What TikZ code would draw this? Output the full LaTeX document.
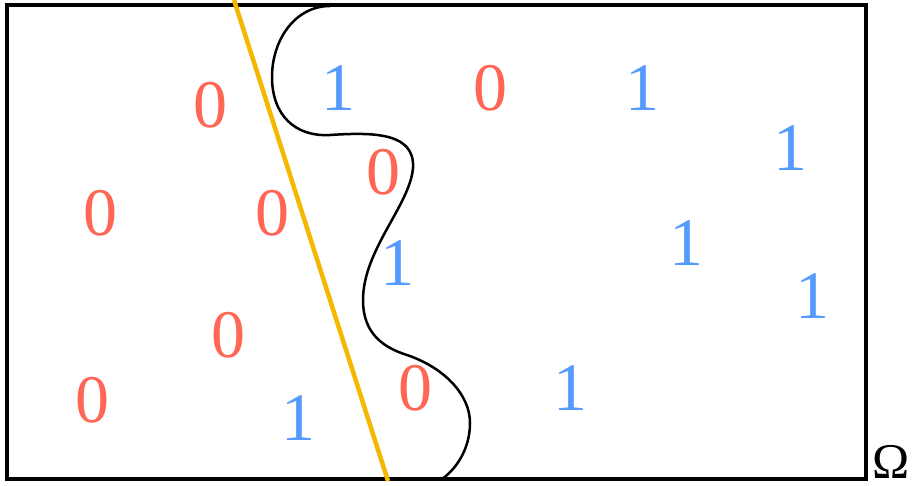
\documentclass[tikz,border=0pt]{standalone}
\usepackage{fontspec}
\setmainfont{Liberation Serif}
\definecolor{zerored}{RGB}{255,102,85}
\definecolor{oneblue}{RGB}{85,155,255}
\definecolor{lineyellow}{RGB}{245,184,0}
\begin{document}
\begin{tikzpicture}[x=1pt,y=-1pt]

    % Stili per le etichette e i bordi
    \tikzset{
        zero/.style={text=zerored, font=\fontsize{68}{68}\selectfont, inner sep=0pt},
        one/.style={text=oneblue, font=\fontsize{68}{68}\selectfont, inner sep=0pt},
        border/.style={line width=4.5pt}
    }

    % Area dell'immagine (917 x 485)
    \useasboundingbox (0,0) rectangle (917,485);

    % Dominio
    \draw[border] (7,5) rectangle (866,479);
    \node[font=\fontsize{50}{50}\selectfont, anchor=base west, inner sep=0pt] (omega) at (872,478) {Ω};

    % Separatore lineare
    \coordinate (ltop) at (234,0);
    \coordinate (lbot) at (388,481);
    \draw[lineyellow, line width=4.5pt] (ltop) -- (lbot);

    % Frontiera curva
    \draw[line width=2.5pt] (330,6)
        .. controls (295,6) and (272,40) .. (272,77)
        .. controls (272,115) and (295,137) .. (330,135)
        .. controls (375,132) and (415,133) .. (413,168)
        .. controls (410,205) and (363,250) .. (363,300)
        .. controls (363,335) and (385,348) .. (407,355)
        .. controls (445,368) and (470,395) .. (470,423)
        .. controls (470,450) and (455,470) .. (442,479);

    % Etichette classe 0
    \node[zero] (z1) at (210,105) {0};
    \node[zero] (z2) at (100,213) {0};
    \node[zero] (z3) at (272,213) {0};
    \node[zero] (z4) at (228,335) {0};
    \node[zero] (z5) at (92,400) {0};
    \node[zero] (z6) at (490,88) {0};
    \node[zero] (z7) at (383,172) {0};
    \node[zero] (z8) at (415,388) {0};

    % Etichette classe 1
    \node[one] (o1) at (338,88) {1};
    \node[one] (o2) at (642,88) {1};
    \node[one] (o3) at (790,148) {1};
    \node[one] (o4) at (397,263) {1};
    \node[one] (o5) at (686,243) {1};
    \node[one] (o6) at (812,296) {1};
    \node[one] (o7) at (570,388) {1};
    \node[one] (o8) at (298,418) {1};

\end{tikzpicture}
\end{document}
